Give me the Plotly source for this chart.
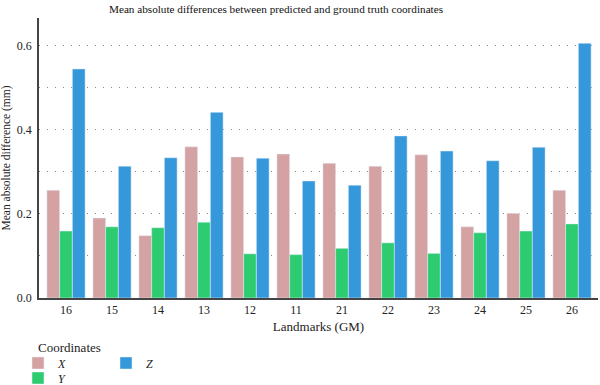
import plotly.graph_objects as go

landmarks = ["16", "15", "14", "13", "12", "11", "21", "22", "23", "24", "25", "26"]
x_vals = [0.256, 0.190, 0.148, 0.359, 0.335, 0.342, 0.320, 0.313, 0.340, 0.169, 0.201, 0.256]
y_vals = [0.159, 0.169, 0.167, 0.180, 0.105, 0.103, 0.118, 0.131, 0.106, 0.155, 0.159, 0.176]
z_vals = [0.544, 0.313, 0.333, 0.441, 0.332, 0.278, 0.268, 0.385, 0.349, 0.326, 0.358, 0.605]

colors = {"X": "#D4A2A2", "Y": "#2ECC71", "Z": "#3498DB"}
FONT = "Liberation Serif, Times New Roman, serif"

fig = go.Figure()
fig.add_trace(go.Bar(x=landmarks, y=x_vals, name="<i>X</i>", marker_color=colors["X"], legend="legend4"))
fig.add_trace(go.Bar(x=landmarks, y=y_vals, name="<i>Y</i>", marker_color=colors["Y"], legend="legend3"))
fig.add_trace(go.Bar(x=landmarks, y=z_vals, name="<i>Z</i>", marker_color=colors["Z"], legend="legend2"))

# plot area: x 39..598 px, y 18..298 px
def px_x(p):
    return (p - 39) / 559

def px_y(p):
    return (298 - p) / 280

leg_common = dict(xanchor="left", yanchor="middle", orientation="v",
                  font=dict(size=12, family=FONT, color="#222"), itemwidth=30,
                  bgcolor="rgba(0,0,0,0)")

fig.update_layout(
    width=600, height=385,
    margin=dict(l=39, r=2, t=18, b=87, autoexpand=False),
    paper_bgcolor="white", plot_bgcolor="white",
    font=dict(family=FONT, size=12, color="#222"),
    barmode="group", bargap=0.17, bargroupgap=0,
    showlegend=True,
    title=dict(text="Mean absolute differences between predicted and ground truth coordinates",
               x=276/600, xref="container", xanchor="center", y=1 - 9/385, yref="container", yanchor="middle",
               font=dict(size=11.2, family=FONT, color="#111")),
    xaxis=dict(range=[-0.587, 11.565], showline=True, linecolor="#444", linewidth=1.5,
               ticks="", showgrid=False, tickfont=dict(size=12, family=FONT, color="#222"),
               title=dict(text="Landmarks (GM)", font=dict(size=13, family=FONT, color="#222"), standoff=6)),
    yaxis=dict(range=[0, 0.665], showline=True, linecolor="#444", linewidth=1.5,
               tickvals=[0, 0.2, 0.4, 0.6], ticktext=["0.0", "0.2", "0.4", "0.6"],
               ticks="", tickfont=dict(size=12, family=FONT, color="#222"), ticklabelstandoff=3,
               showgrid=True, gridcolor="#8a8a8a", griddash="1px,7px", gridwidth=1,
               minor=dict(dtick=0.1, tick0=0, showgrid=True, gridcolor="#8a8a8a", griddash="1px,7px", gridwidth=1),
               zeroline=False,
               title=dict(text="Mean absolute difference (mm)", font=dict(size=11.5, family=FONT, color="#222"), standoff=8)),
    legend4=dict(x=px_x(18), y=px_y(363), **leg_common),
    legend3=dict(x=px_x(18), y=px_y(378), **leg_common),
    legend2=dict(x=px_x(106), y=px_y(363), **leg_common),
    annotations=[dict(text="Coordinates", x=px_x(36), y=px_y(347), xref="paper", yref="paper",
                      xanchor="left", yanchor="middle", showarrow=False,
                      font=dict(size=13, family=FONT, color="#222"))],
)

fig.write_html("out.html")
